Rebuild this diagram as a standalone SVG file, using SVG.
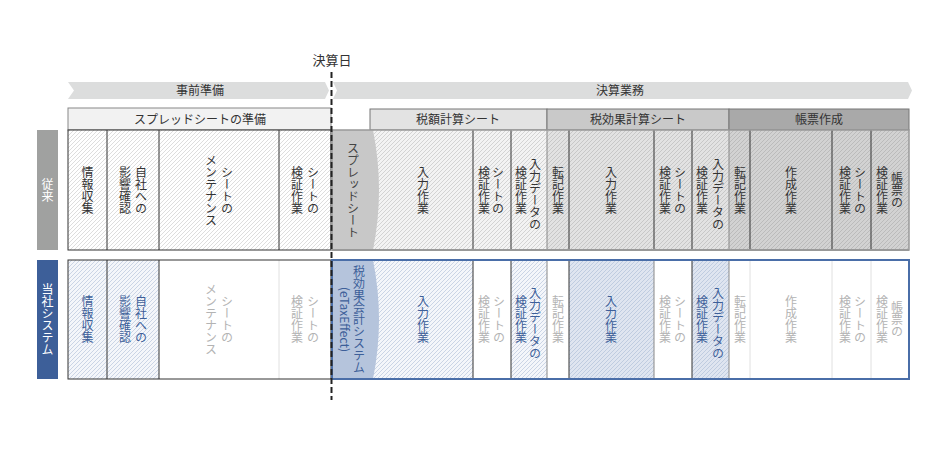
<svg xmlns="http://www.w3.org/2000/svg" width="950" height="450" viewBox="0 0 950 450">
<style>
.t{font-family:"Noto Sans CJK JP","Noto Sans",sans-serif;font-size:12px;fill:#333}
.v{writing-mode:vertical-rl;text-anchor:middle}
.h{text-anchor:middle}
.blue{fill:#3d5f99}
.gry{fill:#b3b3b3}
.wht{fill:#ffffff}
.dk{stroke:#333;stroke-width:1}
.md{stroke:#888;stroke-width:1}
.lt{stroke:#e0e0e0;stroke-width:1}
</style>
<defs>
<pattern id="hW" patternUnits="userSpaceOnUse" width="4" height="4"><rect width="4" height="4" fill="#ffffff"/><path d="M-1,1 L1,-1 M0,4 L4,0 M3,5 L5,3" stroke="#cfcfcf" stroke-width="0.7"/></pattern>
<pattern id="hA" patternUnits="userSpaceOnUse" width="4" height="4"><rect width="4" height="4" fill="#f3f3f3"/><path d="M-1,1 L1,-1 M0,4 L4,0 M3,5 L5,3" stroke="#c6c6c6" stroke-width="0.7"/></pattern>
<pattern id="hL" patternUnits="userSpaceOnUse" width="4" height="4"><rect width="4" height="4" fill="#e2e2e2"/><path d="M-1,1 L1,-1 M0,4 L4,0 M3,5 L5,3" stroke="#bcbcbc" stroke-width="0.7"/></pattern>
<pattern id="hM" patternUnits="userSpaceOnUse" width="4" height="4"><rect width="4" height="4" fill="#d2d2d2"/><path d="M-1,1 L1,-1 M0,4 L4,0 M3,5 L5,3" stroke="#b2b2b2" stroke-width="0.7"/></pattern>
<pattern id="hB" patternUnits="userSpaceOnUse" width="4" height="4"><rect width="4" height="4" fill="#f4f6fa"/><path d="M-1,1 L1,-1 M0,4 L4,0 M3,5 L5,3" stroke="#b8c6dd" stroke-width="0.7"/></pattern>
<pattern id="hB2" patternUnits="userSpaceOnUse" width="4" height="4"><rect width="4" height="4" fill="#dfe5f0"/><path d="M-1,1 L1,-1 M0,4 L4,0 M3,5 L5,3" stroke="#b2c1da" stroke-width="0.7"/></pattern>
</defs>
<rect width="950" height="450" fill="#ffffff"/>

<!-- phase bands -->
<g id="phase-pre">
<polygon points="68,82 325,82 329,90.5 325,99 68,99 74,90.5" fill="#dcdddd"/>
<text class="t h" x="200" y="95">事前準備</text>
</g>
<g id="phase-closing">
<polygon points="333,82 908,82 912,90.5 908,99 333,99 337,90.5" fill="#dcdddd"/>
<text class="t h" x="620" y="95">決算業務</text>
</g>

<!-- row labels -->
<g id="label-conventional">
<rect x="37" y="130" width="21" height="120" fill="#a0a1a0"/>
<text class="t v wht" x="47.5" y="190">従来</text>
</g>
<g id="label-system">
<rect x="37" y="260" width="21" height="119" fill="#3d5f99"/>
<text class="t v wht" x="47.5" y="319.5">当社システム</text>
</g>

<!-- headers -->
<g id="hdr-spreadsheet-prep">
<rect x="68" y="108" width="263" height="22" fill="#f2f2f2" stroke="#888"/>
<text class="t h" x="200" y="123.5">スプレッドシートの準備</text>
</g>
<g id="hdr-taxcalc">
<rect x="370" y="109" width="177" height="21" fill="#e3e3e3" stroke="#777"/>
<text class="t h" x="458" y="124">税額計算シート</text>
</g>
<g id="hdr-taxeffect">
<rect x="547" y="109" width="182" height="21" fill="#c9c9c9" stroke="#777"/>
<text class="t h" x="638" y="124">税効果計算シート</text>
</g>
<g id="hdr-report">
<rect x="729" y="109" width="180" height="21" fill="#a9a9a9" stroke="#777"/>
<text class="t h" x="819" y="124">帳票作成</text>
</g>

<!-- row 1 conventional, pre -->
<g id="r1-pre">
<rect x="68" y="130" width="263" height="120" fill="url(#hW)" stroke="#333"/>
<line class="dk" x1="107" y1="130" x2="107" y2="250"/>
<line class="dk" x1="159" y1="130" x2="159" y2="250"/>
<line class="dk" x1="279" y1="130" x2="279" y2="250"/>
<text class="t v" x="87.5" y="190">情報収集</text>
<text class="t v" x="141" y="190">自社への</text>
<text class="t v" x="125" y="190">影響確認</text>
<text class="t v" x="227" y="190">シートの</text>
<text class="t v" x="211" y="190">メンテナンス</text>
<text class="t v" x="313" y="190">シートの</text>
<text class="t v" x="297" y="190">検証作業</text>
</g>

<!-- row 1 conventional, closing -->
<g id="r1-closing">
<rect x="332" y="130" width="215" height="120" fill="url(#hA)"/>
<rect x="547" y="130" width="182" height="120" fill="url(#hL)"/>
<rect x="729" y="130" width="180" height="120" fill="url(#hM)"/>
<path d="M332,130 L373,130 Q385,190 373,250 L332,250 Z" fill="#c8c8c8"/>
<line class="dk" x1="473" y1="130" x2="473" y2="250"/>
<line class="dk" x1="511" y1="130" x2="511" y2="250"/>
<line class="md" x1="547" y1="130" x2="547" y2="250"/>
<line class="dk" x1="569" y1="130" x2="569" y2="250"/>
<line class="dk" x1="654" y1="130" x2="654" y2="250"/>
<line class="dk" x1="692" y1="130" x2="692" y2="250"/>
<line class="md" x1="729" y1="130" x2="729" y2="250"/>
<line class="dk" x1="750" y1="130" x2="750" y2="250"/>
<line class="dk" x1="832" y1="130" x2="832" y2="250"/>
<line class="dk" x1="871" y1="130" x2="871" y2="250"/>
<rect x="332" y="130" width="577" height="120" fill="none" stroke="#999" stroke-width="1.5"/>
<line x1="332" y1="250" x2="909" y2="250" stroke="#999" stroke-width="2"/>
<text class="t v" x="353" y="190" style="fill:#444">スプレッドシート</text>
<text class="t v" x="423" y="190">入力作業</text>
<text class="t v" x="498" y="190">シートの</text>
<text class="t v" x="484" y="190">検証作業</text>
<text class="t v" x="535" y="194">入力データの</text>
<text class="t v" x="521" y="190">検証作業</text>
<text class="t v" x="558" y="190">転記作業</text>
<text class="t v" x="611" y="190">入力作業</text>
<text class="t v" x="680" y="190">シートの</text>
<text class="t v" x="665" y="190">検証作業</text>
<text class="t v" x="718" y="194">入力データの</text>
<text class="t v" x="702" y="190">検証作業</text>
<text class="t v" x="740" y="190">転記作業</text>
<text class="t v" x="791" y="190">作成作業</text>
<text class="t v" x="860" y="190">シートの</text>
<text class="t v" x="845" y="190">検証作業</text>
<text class="t v" x="897" y="190">帳票の</text>
<text class="t v" x="882" y="190">検証作業</text>
</g>

<!-- row 2 our system, pre -->
<g id="r2-pre">
<rect x="68" y="260" width="263" height="119" fill="#ffffff"/>
<rect x="68" y="260" width="91" height="119" fill="url(#hB)"/>
<line class="dk" x1="107" y1="260" x2="107" y2="379"/>
<line class="dk" x1="159" y1="260" x2="159" y2="379"/>
<line class="lt" x1="279" y1="260" x2="279" y2="379"/>
<rect x="68" y="260" width="263" height="119" fill="none" stroke="#333"/>
<text class="t v blue" x="87.5" y="319.5">情報収集</text>
<text class="t v blue" x="141" y="319.5">自社への</text>
<text class="t v blue" x="125" y="319.5">影響確認</text>
<text class="t v gry" x="227" y="319.5">シートの</text>
<text class="t v gry" x="211" y="319.5">メンテナンス</text>
<text class="t v gry" x="313" y="319.5">シートの</text>
<text class="t v gry" x="297" y="319.5">検証作業</text>
</g>

<!-- row 2 our system, closing -->
<g id="r2-closing">
<rect x="332" y="260" width="577" height="119" fill="#ffffff"/>
<rect x="332" y="260" width="141" height="119" fill="url(#hB)"/>
<rect x="511" y="260" width="36" height="119" fill="url(#hB)"/>
<rect x="569" y="260" width="85" height="119" fill="url(#hB2)"/>
<rect x="692" y="260" width="37" height="119" fill="url(#hB2)"/>
<path d="M332,260 L373,260 Q385,319.5 373,379 L332,379 Z" fill="#b5c4dc"/>
<line class="dk" x1="473" y1="260" x2="473" y2="379"/>
<line class="dk" x1="511" y1="260" x2="511" y2="379"/>
<line class="md" x1="547" y1="260" x2="547" y2="379"/>
<line class="dk" x1="569" y1="260" x2="569" y2="379"/>
<line class="md" x1="654" y1="260" x2="654" y2="379"/>
<line class="dk" x1="692" y1="260" x2="692" y2="379"/>
<line class="md" x1="729" y1="260" x2="729" y2="379"/>
<line class="lt" x1="750" y1="260" x2="750" y2="379"/>
<line class="lt" x1="832" y1="260" x2="832" y2="379"/>
<line class="lt" x1="871" y1="260" x2="871" y2="379"/>
<rect x="332" y="260" width="577" height="119" fill="none" stroke="#4a6ea8" stroke-width="2"/>
<text class="t v blue" x="359" y="319.5">税効果会計システム</text>
<text class="t v blue" x="345" y="319.5">(eTaxEffect)</text>
<text class="t v blue" x="423" y="319.5">入力作業</text>
<text class="t v gry" x="499" y="319.5">シートの</text>
<text class="t v gry" x="484" y="319.5">検証作業</text>
<text class="t v blue" x="535" y="323.5">入力データの</text>
<text class="t v blue" x="521" y="319.5">検証作業</text>
<text class="t v gry" x="558" y="319.5">転記作業</text>
<text class="t v blue" x="611" y="319.5">入力作業</text>
<text class="t v gry" x="680" y="319.5">シートの</text>
<text class="t v gry" x="665" y="319.5">検証作業</text>
<text class="t v blue" x="718" y="323.5">入力データの</text>
<text class="t v blue" x="702" y="319.5">検証作業</text>
<text class="t v gry" x="740" y="319.5">転記作業</text>
<text class="t v gry" x="791" y="319.5">作成作業</text>
<text class="t v gry" x="860" y="319.5">シートの</text>
<text class="t v gry" x="845" y="319.5">検証作業</text>
<text class="t v gry" x="897" y="319.5">帳票の</text>
<text class="t v gry" x="882" y="319.5">検証作業</text>
</g>

<!-- closing date marker -->
<g id="connectors">
<line x1="331.5" y1="72" x2="331.5" y2="400" stroke="#222" stroke-width="2" stroke-dasharray="6 3"/>
</g>
<g id="closing-date">
<text class="t h" x="332" y="65" style="font-size:13px">決算日</text>
</g>
</svg>
